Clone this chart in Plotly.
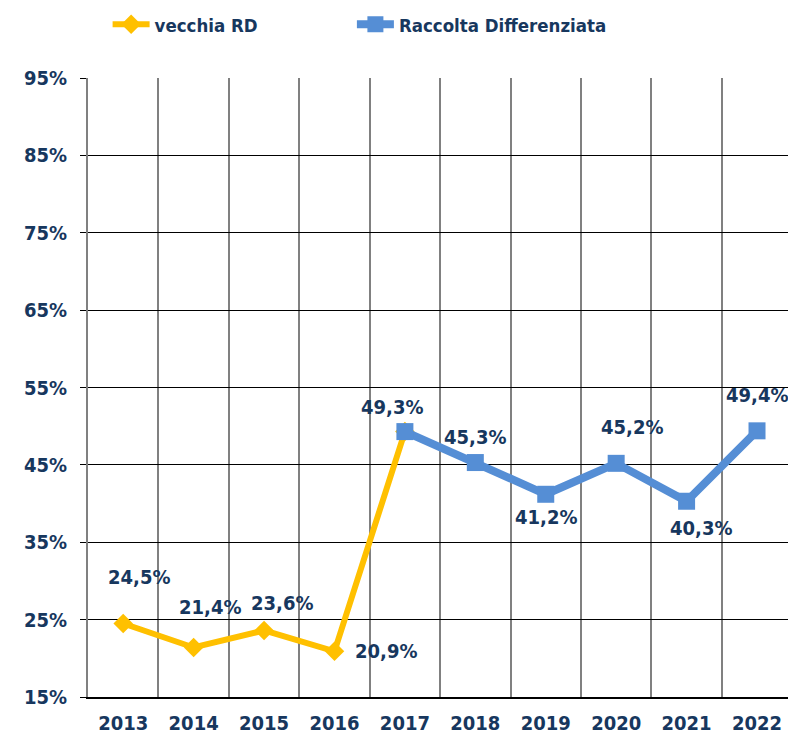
import plotly.graph_objects as go

years = ["2013", "2014", "2015", "2016", "2017", "2018", "2019", "2020", "2021", "2022"]
old_years = ["2013", "2014", "2015", "2016", "2017"]
old_vals = [24.5, 21.4, 23.6, 20.9, 49.3]
new_years = ["2017", "2018", "2019", "2020", "2021", "2022"]
new_vals = [49.3, 45.3, 41.2, 45.2, 40.3, 49.4]
y_ticks = [15, 25, 35, 45, 55, 65, 75, 85, 95]

old_shift = [(16, 46), (16, 40), (18, 27), (52, 0), None]
new_shift = [(-13, 25), (0, 26), (0, -23), (16, 36), (14, -27), (0, 36)]

NAVY = "#17375E"
FONT = "DejaVu Sans Condensed"
idx = {y: i for i, y in enumerate(years)}

fig = go.Figure()
fig.add_trace(go.Scatter(
    x=[idx[y] for y in old_years], y=old_vals, name="vecchia RD",
    mode="lines+markers", legend="legend", showlegend=True,
    line=dict(color="#FFC000", width=6),
    marker=dict(symbol="diamond", size=15, color="#FFC000"),
))
fig.add_trace(go.Scatter(
    x=[idx[y] for y in new_years], y=new_vals, name="Raccolta Differenziata",
    mode="lines+markers", legend="legend2", showlegend=True,
    line=dict(color="#558ED5", width=8),
    marker=dict(symbol="square", size=17, color="#558ED5"),
))

def lab(v):
    return f"{v:.1f}".replace(".", ",") + "%"

anns = []
for yr, v, s in zip(old_years, old_vals, old_shift):
    if s is None:
        continue
    anns.append(dict(x=idx[yr], y=v, text=lab(v), showarrow=False,
                     xshift=s[0], yshift=s[1]))
for yr, v, s in zip(new_years, new_vals, new_shift):
    anns.append(dict(x=idx[yr], y=v, text=lab(v), showarrow=False,
                     xshift=s[0], yshift=s[1]))
for a in anns:
    a["font"] = dict(family=FONT, size=20, color=NAVY, weight="bold")

legfont = dict(family=FONT, size=18.5, color=NAVY, weight="bold")
fig.update_layout(
    width=788, height=734,
    showlegend=True,
    margin=dict(l=88, r=0, t=78, b=37, autoexpand=False),
    plot_bgcolor="white", paper_bgcolor="white",
    font=dict(family=FONT, size=20, color=NAVY, weight="bold"),
    annotations=anns,
    legend=dict(orientation="h", x=0.028, y=1.086, xanchor="left", yanchor="middle",
                font=legfont, itemwidth=37, bgcolor="rgba(0,0,0,0)"),
    legend2=dict(orientation="h", x=0.377, y=1.086, xanchor="left", yanchor="middle",
                 font=legfont, itemwidth=37, bgcolor="rgba(0,0,0,0)"),
    xaxis=dict(
        range=[-0.5, 9.44],
        tickvals=list(range(len(years))), ticktext=years,
        showgrid=False, zeroline=False, automargin=False,
        showline=True, linecolor="#000000", linewidth=1.5,
        ticks="", ticklabelstandoff=7,
        minor=dict(tick0=-0.5, dtick=1, showgrid=True, gridcolor="#808080", gridwidth=2),
        tickfont=dict(family=FONT, size=20, color=NAVY, weight="bold"),
    ),
    yaxis=dict(
        range=[15, 95], tickvals=y_ticks, ticktext=[f"{t}%" for t in y_ticks],
        showgrid=True, gridcolor="#000000", gridwidth=1, automargin=False,
        zeroline=False, showline=True, linecolor="#808080", linewidth=2,
        ticks="outside", ticklen=6, tickcolor="#000000", ticklabelstandoff=9,
        tickfont=dict(family=FONT, size=20, color=NAVY, weight="bold"),
    ),
)

fig.write_html("out.html", config={"displayModeBar": False},
               post_script="document.body.style.margin='0';document.body.style.overflow='hidden';")
